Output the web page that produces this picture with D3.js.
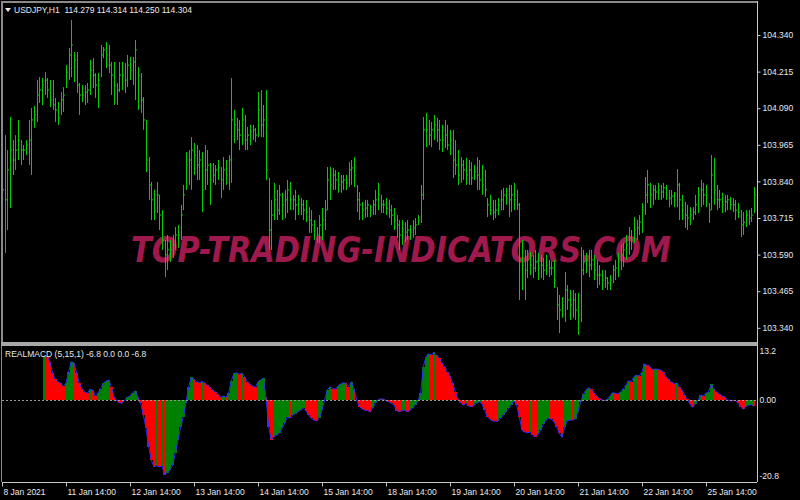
<!DOCTYPE html>
<html>
<head>
<meta charset="utf-8">
<script src="https://cdn.jsdelivr.net/npm/d3@7"></script>
<style>
  body { margin: 0; background: #000; }
  svg { display: block; }
</style>
</head>
<body>
<div id="chart"></div>
<script>
(function(){

  // USDJPY H1 bars, 8 Jan 14:00 .. 26 Jan
  var high = [
    103.947,103.998,103.947,104.060,103.981,103.998,104.050,103.981,103.964,103.981,
    104.050,104.091,104.098,104.186,104.196,104.193,104.213,104.193,104.186,104.186,
    104.125,104.111,104.145,104.162,104.237,104.296,104.391,104.282,104.282,104.176,
    104.169,104.169,104.176,104.255,104.261,104.210,104.210,104.306,104.299,104.316,
    104.306,104.248,104.248,104.176,104.248,104.248,104.244,104.272,104.265,104.265,
    104.323,104.230,104.210,104.128,104.050,103.923,103.838,103.811,103.838,103.794,
    103.742,103.640,103.657,103.640,103.657,103.684,103.691,103.760,103.828,103.940,
    103.947,103.991,103.971,103.964,103.947,103.940,103.964,103.947,103.903,103.903,
    103.896,103.913,103.889,103.923,103.913,103.930,104.193,104.084,104.057,104.050,
    104.091,104.067,104.026,104.033,104.033,104.023,104.145,104.152,104.101,104.152,
    103.852,103.777,103.835,103.811,103.828,103.801,103.811,103.845,103.838,103.794,
    103.811,103.794,103.783,103.777,103.777,103.752,103.742,103.708,103.684,103.725,
    103.749,103.777,103.889,103.889,103.886,103.879,103.872,103.862,103.862,103.862,
    103.906,103.913,103.923,103.828,103.804,103.770,103.777,103.777,103.760,103.777,
    103.811,103.835,103.794,103.777,103.783,103.777,103.760,103.749,103.725,103.708,
    103.708,103.701,103.708,103.691,103.708,103.715,103.725,103.828,104.060,104.074,
    104.050,104.043,104.067,104.057,104.050,104.033,104.050,104.033,104.016,104.016,
    103.981,103.947,103.923,103.913,103.920,103.913,103.906,103.896,103.923,103.913,
    103.896,103.879,103.783,103.794,103.777,103.777,103.783,103.811,103.818,103.818,
    103.828,103.828,103.835,103.811,103.766,103.640,103.606,103.606,103.599,103.589,
    103.606,103.596,103.589,103.579,103.589,103.572,103.565,103.572,103.479,103.452,
    103.445,103.531,103.486,103.469,103.469,103.459,103.459,103.616,103.606,103.596,
    103.606,103.606,103.589,103.572,103.554,103.537,103.537,103.513,103.520,103.554,
    103.572,103.596,103.623,103.630,103.657,103.684,103.674,103.718,103.708,103.725,
    103.766,103.855,103.879,103.835,103.828,103.828,103.835,103.828,103.835,103.828,
    103.811,103.811,103.804,103.882,103.835,103.794,103.770,103.760,103.752,103.752,
    103.794,103.821,103.845,103.835,103.828,103.766,103.930,103.920,103.828,103.811,
    103.801,103.794,103.794,103.787,103.783,103.777,103.766,103.742,103.735,103.742,
    103.742,103.749,103.821
  ];
  var low = [
    103.606,103.596,103.674,103.749,103.862,103.879,103.913,103.896,103.913,103.930,
    103.896,103.862,104.023,104.043,104.108,104.101,104.135,104.125,104.094,104.084,
    104.043,104.033,104.067,104.077,104.159,104.186,104.196,104.179,104.142,104.067,
    104.111,104.101,104.108,104.135,104.159,104.125,104.091,104.196,104.261,104.227,
    104.210,104.135,104.101,104.101,104.145,104.152,104.142,104.162,104.186,104.169,
    104.118,104.084,104.074,104.016,103.872,103.777,103.708,103.708,103.732,103.674,
    103.606,103.513,103.537,103.565,103.579,103.606,103.613,103.640,103.742,103.811,
    103.828,103.811,103.862,103.845,103.845,103.735,103.811,103.828,103.760,103.835,
    103.828,103.845,103.783,103.811,103.828,103.811,103.835,103.971,103.981,103.947,
    103.964,103.947,103.947,103.964,103.981,103.974,103.991,103.991,103.991,103.845,
    103.606,103.606,103.708,103.708,103.725,103.708,103.715,103.732,103.742,103.742,
    103.708,103.725,103.725,103.708,103.701,103.664,103.664,103.640,103.630,103.630,
    103.640,103.674,103.742,103.777,103.811,103.811,103.801,103.801,103.811,103.811,
    103.821,103.828,103.821,103.735,103.708,103.708,103.715,103.718,103.718,103.725,
    103.725,103.742,103.732,103.732,103.725,103.715,103.691,103.674,103.647,103.606,
    103.623,103.633,103.640,103.640,103.647,103.657,103.691,103.698,103.777,103.957,
    103.964,103.957,103.981,103.974,103.947,103.940,103.954,103.947,103.930,103.852,
    103.862,103.828,103.835,103.845,103.828,103.828,103.828,103.845,103.811,103.811,
    103.794,103.787,103.718,103.725,103.708,103.715,103.725,103.742,103.742,103.760,
    103.718,103.735,103.742,103.742,103.435,103.469,103.435,103.510,103.520,103.510,
    103.531,103.503,103.510,103.503,103.520,103.513,103.520,103.476,103.367,103.322,
    103.374,103.360,103.401,103.367,103.374,103.367,103.316,103.360,103.520,103.527,
    103.513,103.537,103.503,103.476,103.486,103.469,103.476,103.469,103.469,103.493,
    103.503,103.513,103.537,103.548,103.572,103.589,103.606,103.630,103.640,103.657,
    103.664,103.725,103.766,103.749,103.760,103.777,103.777,103.777,103.783,103.777,
    103.752,103.760,103.752,103.752,103.708,103.708,103.681,103.674,103.691,103.708,
    103.725,103.732,103.752,103.760,103.752,103.698,103.742,103.760,103.742,103.749,
    103.732,103.735,103.742,103.742,103.735,103.708,103.715,103.650,103.657,103.684,
    103.691,103.701,103.732
  ];
  var close = [
    103.811,103.777,103.879,103.947,103.913,103.947,103.981,103.947,103.947,103.964,
    103.981,104.050,104.067,104.135,104.152,104.169,104.186,104.152,104.118,104.101,
    104.084,104.057,104.118,104.135,104.213,104.272,104.306,104.255,104.169,104.135,
    104.135,104.145,104.152,104.220,104.203,104.169,104.186,104.272,104.289,104.272,
    104.237,104.203,104.169,104.152,104.203,104.203,104.186,104.237,104.220,104.248,
    104.289,104.203,104.118,104.050,103.913,103.828,103.777,103.742,103.794,103.725,
    103.640,103.589,103.606,103.606,103.623,103.657,103.657,103.725,103.794,103.896,
    103.913,103.947,103.930,103.896,103.913,103.811,103.879,103.896,103.845,103.862,
    103.879,103.886,103.845,103.879,103.862,103.913,104.050,104.033,104.016,103.998,
    104.050,103.981,103.998,104.009,104.016,103.998,104.084,104.033,104.050,103.879,
    103.674,103.725,103.777,103.742,103.794,103.760,103.777,103.811,103.777,103.777,
    103.760,103.777,103.760,103.742,103.735,103.708,103.691,103.674,103.657,103.691,
    103.708,103.742,103.845,103.828,103.862,103.845,103.828,103.838,103.845,103.835,
    103.879,103.886,103.862,103.777,103.760,103.742,103.749,103.760,103.742,103.760,
    103.777,103.794,103.760,103.760,103.749,103.742,103.725,103.708,103.691,103.657,
    103.674,103.667,103.674,103.667,103.681,103.691,103.708,103.794,104.016,104.016,
    103.998,104.016,104.033,104.016,103.981,103.981,103.998,103.964,103.981,103.913,
    103.896,103.862,103.896,103.879,103.862,103.879,103.852,103.872,103.862,103.845,
    103.828,103.811,103.760,103.742,103.735,103.742,103.760,103.777,103.794,103.783,
    103.777,103.794,103.777,103.760,103.572,103.554,103.537,103.572,103.554,103.544,
    103.565,103.544,103.554,103.537,103.554,103.544,103.544,103.503,103.418,103.401,
    103.418,103.469,103.435,103.418,103.435,103.401,103.384,103.537,103.565,103.572,
    103.554,103.572,103.537,103.520,103.520,103.503,103.510,103.493,103.503,103.537,
    103.544,103.565,103.589,103.606,103.623,103.647,103.640,103.674,103.681,103.701,
    103.742,103.794,103.828,103.794,103.811,103.804,103.811,103.804,103.818,103.794,
    103.783,103.790,103.777,103.828,103.777,103.742,103.725,103.715,103.725,103.735,
    103.760,103.794,103.811,103.794,103.783,103.742,103.862,103.811,103.777,103.777,
    103.760,103.770,103.777,103.760,103.760,103.742,103.735,103.691,103.701,103.725,
    103.715,103.725,103.794
  ];

  // RealMACD (5,15,1), first value on bar 16
  var macd = [
    null,null,null,null,null,null,null,null,null,null,
    null,null,null,null,null,null,11.9,11.5,10.3,7.1,
    5.5,4.85,4.4,3.7,4.4,7.6,10.3,10.0,7.1,4.4,
    3.0,2.1,1.7,2.8,2.6,0.95,1.7,3.0,4.4,5.0,
    5.3,3.5,0.8,-0.3,-0.9,-1.0,-0.1,0.6,0.95,1.9,
    2.4,0.6,-1.0,-4.2,-7.8,-12.8,-16.5,-18.3,-18.0,-18.3,
    -18.1,-20.5,-19.9,-19.2,-17.8,-14.6,-11.0,-7.6,-4.7,-1.0,
    3.5,6.0,5.5,4.85,4.6,4.9,4.6,3.9,3.3,2.6,
    2.1,1.4,0.6,0.95,0.6,1.7,5.1,7.1,7.3,6.9,
    7.1,6.2,4.85,4.2,3.7,3.3,4.85,5.3,5.8,0.6,
    -7.4,-11.0,-10.1,-9.7,-9.2,-7.8,-6.5,-4.8,-5.0,-4.2,
    -3.8,-3.3,-2.9,-2.4,-3.0,-4.2,-5.1,-5.6,-5.8,-5.1,
    -2.9,-0.1,2.6,3.5,3.0,2.8,3.7,4.2,4.6,4.4,
    3.5,4.85,3.0,-0.1,-1.9,-2.5,-2.9,-3.0,-3.3,-2.4,
    -1.0,-0.1,0.2,0.1,-0.3,-0.6,-1.0,-1.5,-3.0,-3.3,
    -3.0,-2.9,-3.3,-2.9,-2.4,-1.5,-0.4,1.7,8.9,11.7,
    12.4,12.2,12.8,12.1,11.2,10.0,8.9,7.6,6.4,4.4,
    2.1,0.05,-0.9,-1.5,-1.0,-1.8,-1.9,-1.6,-1.0,-0.6,
    -1.2,-2.9,-4.7,-5.4,-5.8,-5.95,-5.9,-5.1,-4.2,-3.3,
    -2.4,-1.5,-0.3,-1.5,-4.7,-8.3,-8.8,-9.0,-8.9,-9.7,
    -10.1,-9.5,-8.3,-6.7,-5.6,-5.1,-5.4,-6.0,-7.4,-9.2,
    -10.3,-7.6,-5.8,-5.6,-5.6,-5.3,-3.3,-0.6,1.4,2.6,
    3.2,2.8,1.9,0.95,0.3,-0.1,-0.3,0.05,0.95,1.9,
    1.7,1.5,2.1,3.0,3.9,5.1,4.9,6.2,6.6,6.4,
    7.6,9.7,9.3,8.9,8.2,8.3,8.2,8.0,7.6,6.2,
    5.5,4.85,4.3,4.5,3.5,2.6,1.2,0.05,-1.2,-2.1,
    -1.2,-0.1,1.2,0.95,1.7,2.1,4.1,2.8,2.1,1.5,
    0.95,0.8,-0.1,-0.3,-0.4,-0.2,-1.0,-1.9,-2.6,-1.9,
    -1.6,-1.4,-1.8
  ];

  var priceTicks = [104.340, 104.215, 104.090, 103.965, 103.840, 103.715, 103.590, 103.465, 103.340];
  var macdTicks = [13.2, 0, -20.8];
  var macdTickLabels = ['13.2', '0.00', '-20.8'];
  var dateIdx = [0, 24, 48, 72, 96, 120, 144, 168, 192, 216, 240, 264];
  var dateLabels = ['8 Jan 2021', '11 Jan 14:00', '12 Jan 14:00', '13 Jan 14:00', '14 Jan 14:00',
    '15 Jan 14:00', '18 Jan 14:00', '19 Jan 14:00', '20 Jan 14:00', '21 Jan 14:00',
    '22 Jan 14:00', '25 Jan 14:00'];

  var width = 800;
  var height = 500;
  var right = 757;
  var font = '"Liberation Sans", Arial, sans-serif';
  var textColor = '#e8e8e8';
  var axisColor = '#c8c8c8';

  var x = d3.scaleLinear().domain([0, high.length - 1]).range([2, 754]);
  var y = d3.scaleLinear().domain([103.340, 104.340]).range([327.8, 35]);
  var ym = d3.scaleLinear().domain([-20.8, 13.2]).range([476, 351]);

  var svg = d3.select('#chart')
              .append('svg')
              .attr('width', width)
              .attr('height', height);

  svg.append('rect')
     .attr('width', width)
     .attr('height', height)
     .attr('fill', '#000');

  // watermark sits under the bars; stretched upward so its width stays ~540px
  svg.append('text')
     .text('TOP-TRADING-INDICATORS.COM')
     .attr('transform', 'translate(131,262) scale(1,1.22)')
     .attr('textLength', 540)
     .attr('lengthAdjust', 'spacingAndGlyphs')
     .attr('fill', '#a0194d')
     .attr('font-family', '"DejaVu Sans", sans-serif')
     .attr('font-weight', 'bold')
     .attr('font-style', 'italic')
     .attr('font-size', '29px');

  // price bars
  var bars = svg.append('g').attr('stroke', '#00cc00').attr('stroke-width', 1);

  bars.selectAll('line.hl')
      .data(high)
      .enter()
      .append('line')
      .attr('class', 'hl')
      .attr('x1', function(d, i) { return Math.round(x(i)) + 0.5; })
      .attr('x2', function(d, i) { return Math.round(x(i)) + 0.5; })
      .attr('y1', function(d) { return y(d); })
      .attr('y2', function(d, i) { return y(low[i]); });

  bars.selectAll('line.cl')
      .data(close)
      .enter()
      .append('line')
      .attr('class', 'cl')
      .attr('x1', function(d, i) { return Math.round(x(i)) + 1; })
      .attr('x2', function(d, i) { return Math.round(x(i)) + 2; })
      .attr('y1', function(d) { return y(d); })
      .attr('y2', function(d) { return y(d); });

  // macd histogram, green while rising, red while falling
  var hist = macd.map(function(v, i) {
    if (v === null) return null;
    var prev = i > 0 ? macd[i - 1] : null;
    return { i: i, v: v, up: prev === null || v > prev };
  }).filter(function(d) { return d !== null; });

  function left(i) { return Math.round(x(i - 0.5)); }

  svg.append('g')
     .attr('shape-rendering', 'crispEdges')
     .selectAll('rect')
     .data(hist)
     .enter()
     .append('rect')
     .attr('x', function(d) { return left(d.i); })
     .attr('width', function(d) { return left(d.i + 1) - left(d.i); })
     .attr('y', function(d) { return ym(Math.max(d.v, 0)); })
     .attr('height', function(d) { return Math.abs(ym(d.v) - ym(0)); })
     .attr('fill', function(d) { return d.up ? '#008000' : '#ff0000'; });

  svg.append('path')
     .datum(macd)
     .attr('fill', 'none')
     .attr('stroke', '#2b2bff')
     .attr('stroke-width', 1)
     .attr('d', d3.line()
        .defined(function(d) { return d !== null; })
        .x(function(d, i) { return x(i); })
        .y(function(d) { return ym(d); }));

  svg.append('line')
     .attr('x1', 2).attr('x2', right)
     .attr('y1', Math.round(ym(0)) + 0.5).attr('y2', Math.round(ym(0)) + 0.5)
     .attr('stroke', '#9a9a9a')
     .attr('stroke-dasharray', '2,2');

  // frames
  svg.append('rect').attr('x', 1).attr('y', 1).attr('width', right - 1).attr('height', 2).attr('fill', '#8a8a8a');
  svg.append('rect').attr('x', 1).attr('y', 1).attr('width', 2).attr('height', 343).attr('fill', '#8a8a8a');
  svg.append('rect').attr('x', 1).attr('y', 342).attr('width', right - 1).attr('height', 4).attr('fill', '#a8a8a8');
  svg.append('rect').attr('x', 1).attr('y', 346).attr('width', 1).attr('height', 136).attr('fill', '#8a8a8a');

  // axes
  var yAxis = svg.append('g')
     .attr('transform', 'translate(' + (right + 0.5) + ',0)')
     .call(d3.axisRight(y).tickValues(priceTicks).tickSize(3).tickPadding(2).tickFormat(d3.format('.3f')));

  var mAxis = svg.append('g')
     .attr('transform', 'translate(' + (right + 0.5) + ',0)')
     .call(d3.axisRight(ym).tickValues(macdTicks).tickSize(0).tickPadding(2)
       .tickFormat(function(d, i) { return macdTickLabels[i]; }));

  var xAxis = svg.append('g')
     .attr('transform', 'translate(0,482.5)')
     .call(d3.axisBottom(x).tickValues(dateIdx).tickSize(4).tickPadding(2)
       .tickFormat(function(d, i) { return dateLabels[i]; }));

  xAxis.selectAll('text').attr('text-anchor', 'start').attr('x', 1);
  xAxis.select('.domain').attr('d', 'M2,0H' + right);

  yAxis.select('.domain').attr('d', 'M0,1V482');
  mAxis.select('.domain').remove();

  [yAxis, mAxis, xAxis].forEach(function(g) {
    g.selectAll('path, line').attr('stroke', axisColor);
    g.selectAll('text')
     .attr('fill', textColor)
     .attr('font-family', font)
     .attr('font-size', '8.5px');
  });

  // titles
  svg.append('path')
     .attr('d', 'M5,8H11L8,12Z')
     .attr('fill', textColor);

  svg.append('text')
     .text('USDJPY,H1  114.279 114.314 114.250 114.304')
     .attr('x', 14)
     .attr('y', 12.5)
     .style('white-space', 'pre')
     .attr('fill', textColor)
     .attr('font-family', font)
     .attr('font-size', '8.5px');

  svg.append('text')
     .text('REALMACD (5,15,1) -6.8 0.0 0.0 -6.8')
     .attr('x', 5)
     .attr('y', 356.5)
     .attr('fill', textColor)
     .attr('font-family', font)
     .attr('font-size', '8.5px');

})();
</script>
</body>
</html>
